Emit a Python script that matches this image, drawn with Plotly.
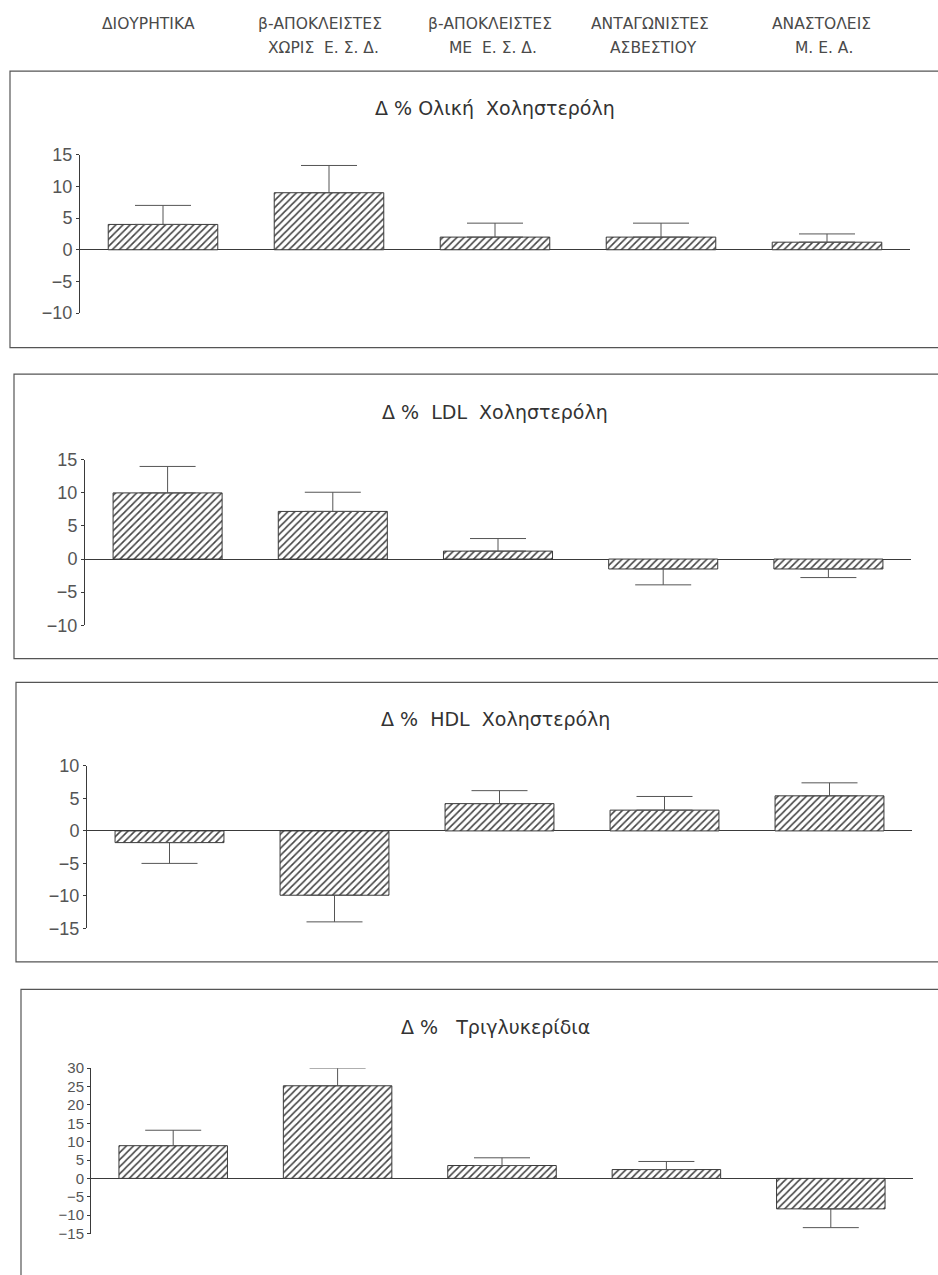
import plotly.graph_objects as go

W, H = 938, 1275

# ---- data ----
categories = ["Διουρητικά", "β-απ. χωρίς ΕΣΔ", "β-απ. με ΕΣΔ", "Ανταγ. ασβεστίου", "Αναστολείς ΜΕΑ"]
header_line1 = ["ΔΙΟΥΡΗΤΙΚΑ", "β-ΑΠΟΚΛΕΙΣΤΕΣ", "β-ΑΠΟΚΛΕΙΣΤΕΣ", "ΑΝΤΑΓΩΝΙΣΤΕΣ", "ΑΝΑΣΤΟΛΕΙΣ"]
header_line2 = ["", "ΧΩΡΙΣ  Ε. Σ. Δ.", "ΜΕ  Ε. Σ. Δ.", "ΑΣΒΕΣΤΙΟΥ", "Μ. Ε. Α."]

titles = ["Δ % Ολική  Χοληστερόλη", "Δ %  LDL  Χοληστερόλη", "Δ %  HDL  Χοληστερόλη", "Δ %   Τριγλυκερίδια"]

total_chol = [4.0, 9.0, 2.0, 2.0, 1.2]
total_chol_err = [3.0, 4.3, 2.2, 2.2, 1.3]

ldl_chol = [10.0, 7.2, 1.2, -1.5, -1.5]
ldl_chol_err = [4.0, 2.9, 1.9, 2.4, 1.3]

hdl_chol = [-1.8, -9.9, 4.2, 3.2, 5.4]
hdl_chol_err = [3.2, 4.1, 2.0, 2.1, 2.0]

triglycerides = [8.9, 25.2, 3.5, 2.4, -8.3]
triglycerides_err = [4.2, 4.8, 2.1, 2.2, 5.1]

y_ranges = [[-10, 15], [-10, 15], [-15, 10], [-15, 30]]
y_dticks = [5, 5, 5, 5]

series = [(total_chol, total_chol_err), (ldl_chol, ldl_chol_err),
          (hdl_chol, hdl_chol_err), (triglycerides, triglycerides_err)]

# ---- layout geometry (pixels) ----
plot_x = [(80, 910), (85, 911), (87, 912), (91, 913)]
plot_y = [(147, 308), (457, 625), (768, 933), (1075, 1243)]
frames = [(10, 62, 343), (14, 370, 659), (16, 683, 967), (21, 995, 1290)]
title_y = [100, 408, 720, 1033]
header_x = [148, 320, 490, 650, 821]

def px(x):
    return x / W

def py(y):
    return 1 - y / H

INK = "#3a3a3a"
FONT = "Liberation Sans, Arial, sans-serif"
WIDE = "DejaVu Sans, Verdana, sans-serif"

fig = go.Figure()
layout = dict(
    width=W, height=H, margin=dict(l=0, r=0, t=0, b=0),
    paper_bgcolor="white", plot_bgcolor="white", showlegend=False,
    font=dict(family=FONT, color=INK),
    shapes=[], annotations=[], bargap=0.34,
)

for i, (vals, errs) in enumerate(series):
    k = "" if i == 0 else str(i + 1)
    plus = [e if v >= 0 else 0 for v, e in zip(vals, errs)]
    minus = [e if v < 0 else 0 for v, e in zip(vals, errs)]
    fig.add_trace(go.Bar(
        x=categories, y=vals, xaxis="x" + k, yaxis="y" + k,
        marker=dict(color="white", line=dict(color=INK, width=1),
                    pattern=dict(shape="/", fgcolor="#444", bgcolor="white",
                                 size=5, solidity=0.32, fillmode="replace")),
        error_y=dict(type="data", symmetric=False, array=plus, arrayminus=minus,
                     color="#555", thickness=1, width=28),
        hoverinfo="skip",
    ))
    x0, x1 = plot_x[i]
    ytop, ybot = plot_y[i]
    layout["xaxis" + k] = dict(domain=[px(x0), px(x1)], range=[-0.5, 4.5],
                               anchor="y" + k, visible=False, type="category",
                               categoryorder="array", categoryarray=categories)
    layout["yaxis" + k] = dict(domain=[py(ybot), py(ytop)], range=y_ranges[i],
                               dtick=y_dticks[i], anchor="x" + k,
                               showline=True, linecolor=INK, linewidth=1,
                               ticks="outside", ticklen=3, tickcolor=INK,
                               tickfont=dict(size=18 if i < 3 else 15, color="#555"),
                               showgrid=False, zeroline=True, zerolinecolor=INK,
                               zerolinewidth=1, fixedrange=True)
    # panel frame
    fl, ft, fb = frames[i]
    layout["shapes"].append(dict(type="rect", xref="paper", yref="paper",
                                 x0=px(fl), x1=px(W + 20), y0=py(fb), y1=py(ft),
                                 line=dict(color="#555", width=1.2)))
    # panel title
    layout["annotations"].append(dict(text=titles[i], xref="paper", yref="paper",
                                      x=px(495), y=py(title_y[i]), showarrow=False,
                                      xanchor="center", yanchor="middle",
                                      font=dict(family=WIDE, size=19, color="#333")))

for j in range(5):
    layout["annotations"].append(dict(text=header_line1[j], xref="paper", yref="paper",
                                      x=px(header_x[j]), y=py(14), showarrow=False,
                                      xanchor="center", yanchor="middle",
                                      font=dict(family=WIDE, size=15.5, color="#4a4a4a")))
    if header_line2[j]:
        layout["annotations"].append(dict(text=header_line2[j], xref="paper", yref="paper",
                                          x=px(header_x[j] + 3), y=py(39), showarrow=False,
                                          xanchor="center", yanchor="middle",
                                          font=dict(family=WIDE, size=15.5, color="#4a4a4a")))

fig.update_layout(**layout)
fig.write_html("out.html", config={"displayModeBar": False},
               post_script="document.body.style.margin='0';document.body.style.padding='0';")
